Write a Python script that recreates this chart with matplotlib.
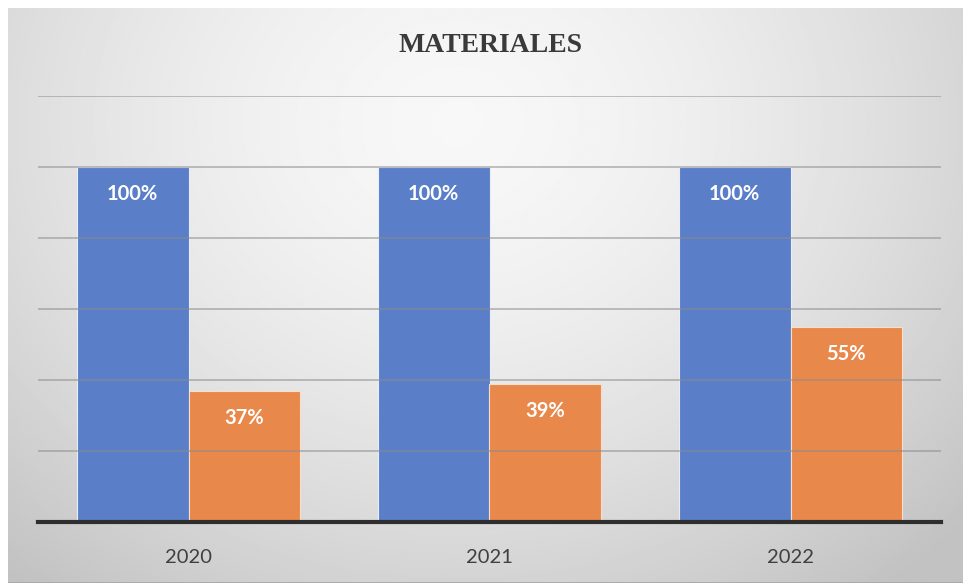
import numpy as np
import matplotlib.pyplot as plt

years = ["2020", "2021", "2022"]
planned = [100, 100, 100]
actual = [37, 39, 55]
yticks = [0, 20, 40, 60, 80, 100, 120]

W, H = 963, 583
fig = plt.figure(figsize=(W / 100, H / 100), dpi=100)
fig.patch.set_facecolor("white")

# radial grey gradient behind the chart
bg = fig.add_axes([8 / W, 0, (W - 8) / W, (H - 8) / H], zorder=0)
yy, xx = np.mgrid[0:1:300j, 0:1:500j]
r = np.sqrt(((xx - 0.47) / 0.7) ** 2 + ((yy - 0.2) / 1.0) ** 2)
shade = np.clip(0.97 - 0.2 * r ** 1.6, 0.76, 0.97)
bg.imshow(shade, cmap="gray", vmin=0, vmax=1, aspect="auto",
          extent=[0, 1, 1, 0], interpolation="bilinear")
bg.axhline(1, color="#a8a8a8", lw=2)
bg.set_xlim(0, 1)
bg.set_ylim(1, 0)
bg.axis("off")

ax = fig.add_axes([38 / W, (H - 522) / H, (941 - 38) / W, (522 - 96) / H], zorder=1)
ax.patch.set_alpha(0)

x = np.arange(len(years))
w = 0.372
b1 = ax.bar(x - w / 2, planned, w, color="#5a7fc8", edgecolor="#e8eef8",
            linewidth=0.8, zorder=2)
b2 = ax.bar(x + w / 2, actual, w, color="#e8884a", edgecolor="#f6e0cc",
            linewidth=0.8, zorder=2)

for bars, vals in ((b1, planned), (b2, actual)):
    for rect, v in zip(bars, vals):
        ax.annotate(f"{v}%", (rect.get_x() + rect.get_width() / 2, v),
                    xytext=(0, -27), textcoords="offset pixels",
                    ha="center", va="center", color="white", fontsize=14.5,
                    fontweight="bold", fontfamily="Lato", zorder=4)

ax.set_xlim(-0.5, 2.5)
ax.set_ylim(0, 120)
ax.set_yticks(yticks)
ax.yaxis.grid(True, color="#8a8a8a", lw=1.2, alpha=0.6)
ax.set_axisbelow(False)
ax.tick_params(axis="y", left=False, labelleft=False)
ax.tick_params(axis="x", bottom=False, pad=16, labelsize=14.5, labelcolor="#404040")
ax.set_xticks(x)
ax.set_xticklabels(years, fontfamily="Lato")
for s in ("top", "right", "left"):
    ax.spines[s].set_visible(False)
ax.spines["bottom"].set_color("#2e2e2e")
ax.spines["bottom"].set_linewidth(3)
ax.spines["bottom"].set_zorder(5)

fig.text(490 / W, 1 - 45 / H, "MATERIALES", ha="center", va="center",
         fontsize=20, fontweight="bold", fontfamily="Liberation Serif",
         color="#3a3a3a")

fig.savefig("out.png", dpi=100)
